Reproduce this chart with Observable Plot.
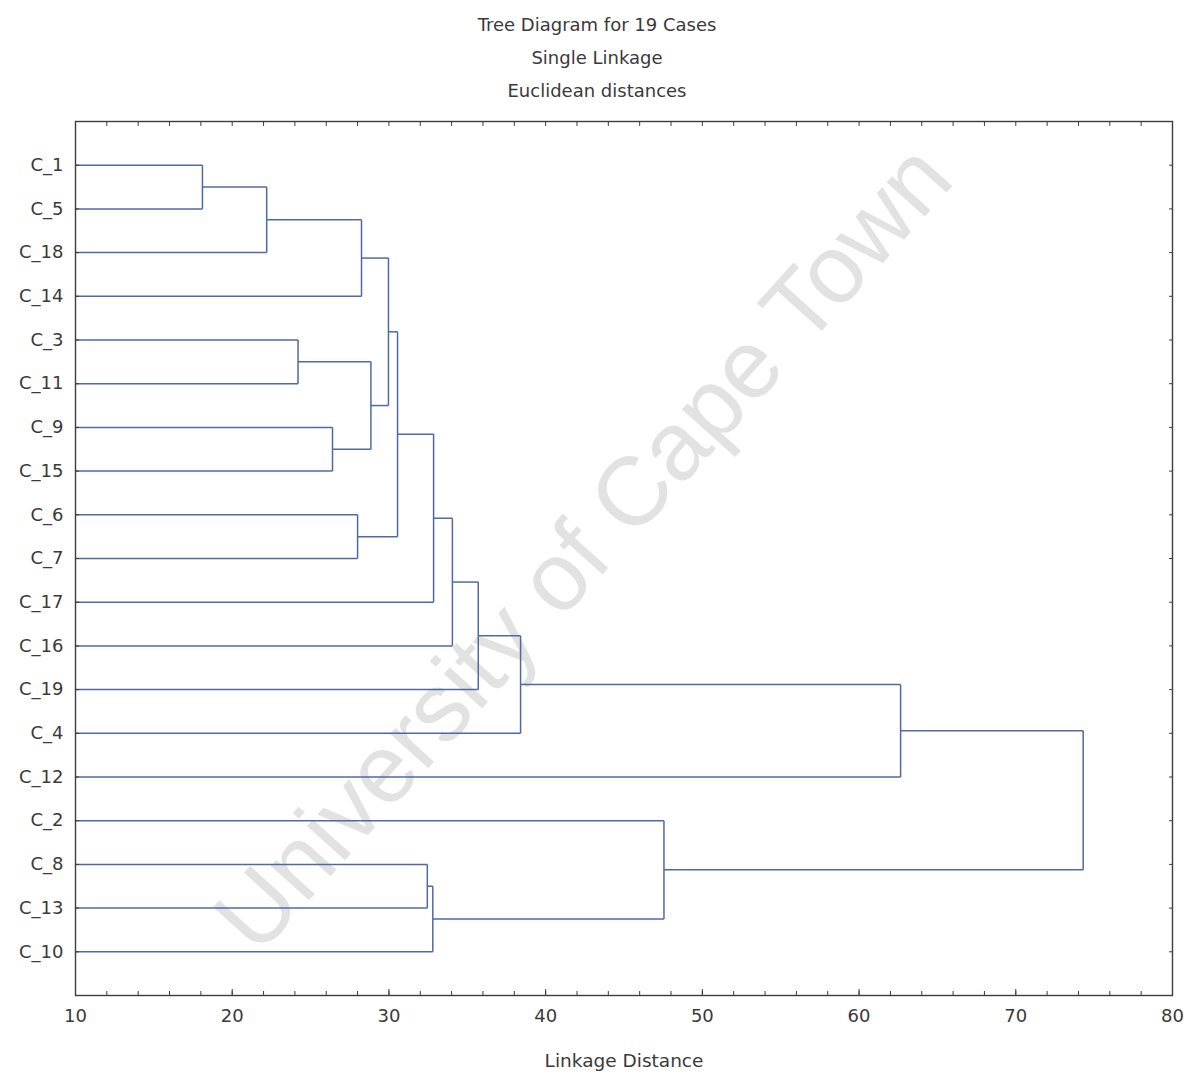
<!DOCTYPE html>
<html>
<head>
<meta charset="utf-8">
<script src="https://cdn.jsdelivr.net/npm/d3@7"></script>
<script src="https://cdn.jsdelivr.net/npm/@observablehq/plot@0.6"></script>
<style>
  html, body { margin: 0; padding: 0; background: #ffffff; }
</style>
</head>
<body>
<div id="chart"></div>
<script>
// Leaf order (top to bottom)
const leaves = ["C_1","C_5","C_18","C_14","C_3","C_11","C_9","C_15","C_6","C_7","C_17","C_16","C_19","C_4","C_12","C_2","C_8","C_13","C_10"];
// Merge steps: node N(i+1) joins mergeLeft[i] and mergeRight[i] at mergeDistance[i]
const mergeLeft  = ["C_1","N1","N2","C_3","C_9","N4","N3","C_6","N7","N9","N10","N11","N12","N13","C_8","N15","C_2","N14"];
const mergeRight = ["C_5","C_18","C_14","C_11","C_15","N5","N6","C_7","N8","C_17","C_16","C_19","C_4","C_12","C_13","C_10","N16","N17"];
const mergeDistance = [18.1, 22.2, 28.25, 24.2, 26.4, 28.85, 29.97, 28.0, 30.55, 32.85, 34.05, 35.7, 38.4, 62.65, 32.45, 32.8, 47.55, 74.3];

const majorTicks = [10, 20, 30, 40, 50, 60, 70, 80];
const minorTicks = d3.range(12, 80, 2);
const titleLines = ["Tree Diagram for 19 Cases", "Single Linkage", "Euclidean distances"];
const xLabel = "Linkage Distance";
const watermark = "University of Cape Town";

// Build node positions
const pos = new Map();
leaves.forEach((name, i) => pos.set(name, {x: 10, y: i}));
const segments = [];
mergeDistance.forEach((h, i) => {
  const a = pos.get(mergeLeft[i]), b = pos.get(mergeRight[i]);
  segments.push({x1: a.x, y1: a.y, x2: h, y2: a.y});
  segments.push({x1: b.x, y1: b.y, x2: h, y2: b.y});
  segments.push({x1: h, y1: a.y, x2: h, y2: b.y});
  pos.set("N" + (i + 1), {x: h, y: (a.y + b.y) / 2});
});

const font = "DejaVu Sans, sans-serif";
const textColor = "#3a3a3a";
const lineColor = "#4f69a6";
const axisColor = "#3d3d3d";

const titleMarks = titleLines.map((t, i) =>
  Plot.text([t], {frameAnchor: "top", text: d => d, dx: -27, dy: -103 + i * 33, fontSize: 18, fill: textColor}));

const chart = Plot.plot({
  width: 1193,
  height: 1078,
  marginTop: 121,
  marginLeft: 75,
  marginRight: 21,
  marginBottom: 83,
  style: {fontFamily: font, background: "#ffffff", color: textColor},
  x: {domain: [10, 80]},
  y: {domain: [-1, 19], reverse: true},
  marks: [
    // watermark
    Plot.text([watermark], {frameAnchor: "middle", text: d => d, dx: -40, dy: -10, rotate: -48,
      fontSize: 97, fill: "#e2e2e2", fontFamily: "Liberation Sans, Arial, sans-serif"}),
    // dendrogram
    Plot.link(segments, {x1: "x1", y1: "y1", x2: "x2", y2: "y2", stroke: lineColor, strokeWidth: 1.5}),
    Plot.frame({stroke: axisColor, strokeWidth: 1.4}),
    // bottom axis labels + ticks
    Plot.axisX({anchor: "bottom", ticks: majorTicks, tickSize: 0, tickPadding: 14, fontSize: 18, fill: textColor, label: null}),
    Plot.axisX({anchor: "bottom", ticks: majorTicks, tickSize: -6, tickFormat: () => "", label: null, stroke: axisColor}),
    Plot.axisX({anchor: "bottom", ticks: minorTicks, tickSize: -4, tickFormat: () => "", label: null, stroke: axisColor}),
    // top axis ticks
    Plot.axisX({anchor: "top", ticks: minorTicks, tickSize: -4, tickFormat: () => "", label: null, stroke: axisColor}),
    // left axis
    Plot.axisY({anchor: "left", ticks: d3.range(leaves.length), tickFormat: i => leaves[i], tickSize: 0, tickPadding: 12,
      fontSize: 18, fill: textColor, label: null}),
    Plot.axisY({anchor: "left", ticks: d3.range(leaves.length), tickSize: -4, tickFormat: () => "", label: null, stroke: axisColor}),
    // right axis ticks
    Plot.axisY({anchor: "right", ticks: d3.range(leaves.length), tickSize: -4, tickFormat: () => "", label: null, stroke: axisColor}),
    // titles
    ...titleMarks,
    Plot.text([xLabel], {frameAnchor: "bottom", text: d => d, dy: 71, fontSize: 18.5, fill: textColor})
  ]
});
document.getElementById("chart").appendChild(chart);
</script>
</body>
</html>
